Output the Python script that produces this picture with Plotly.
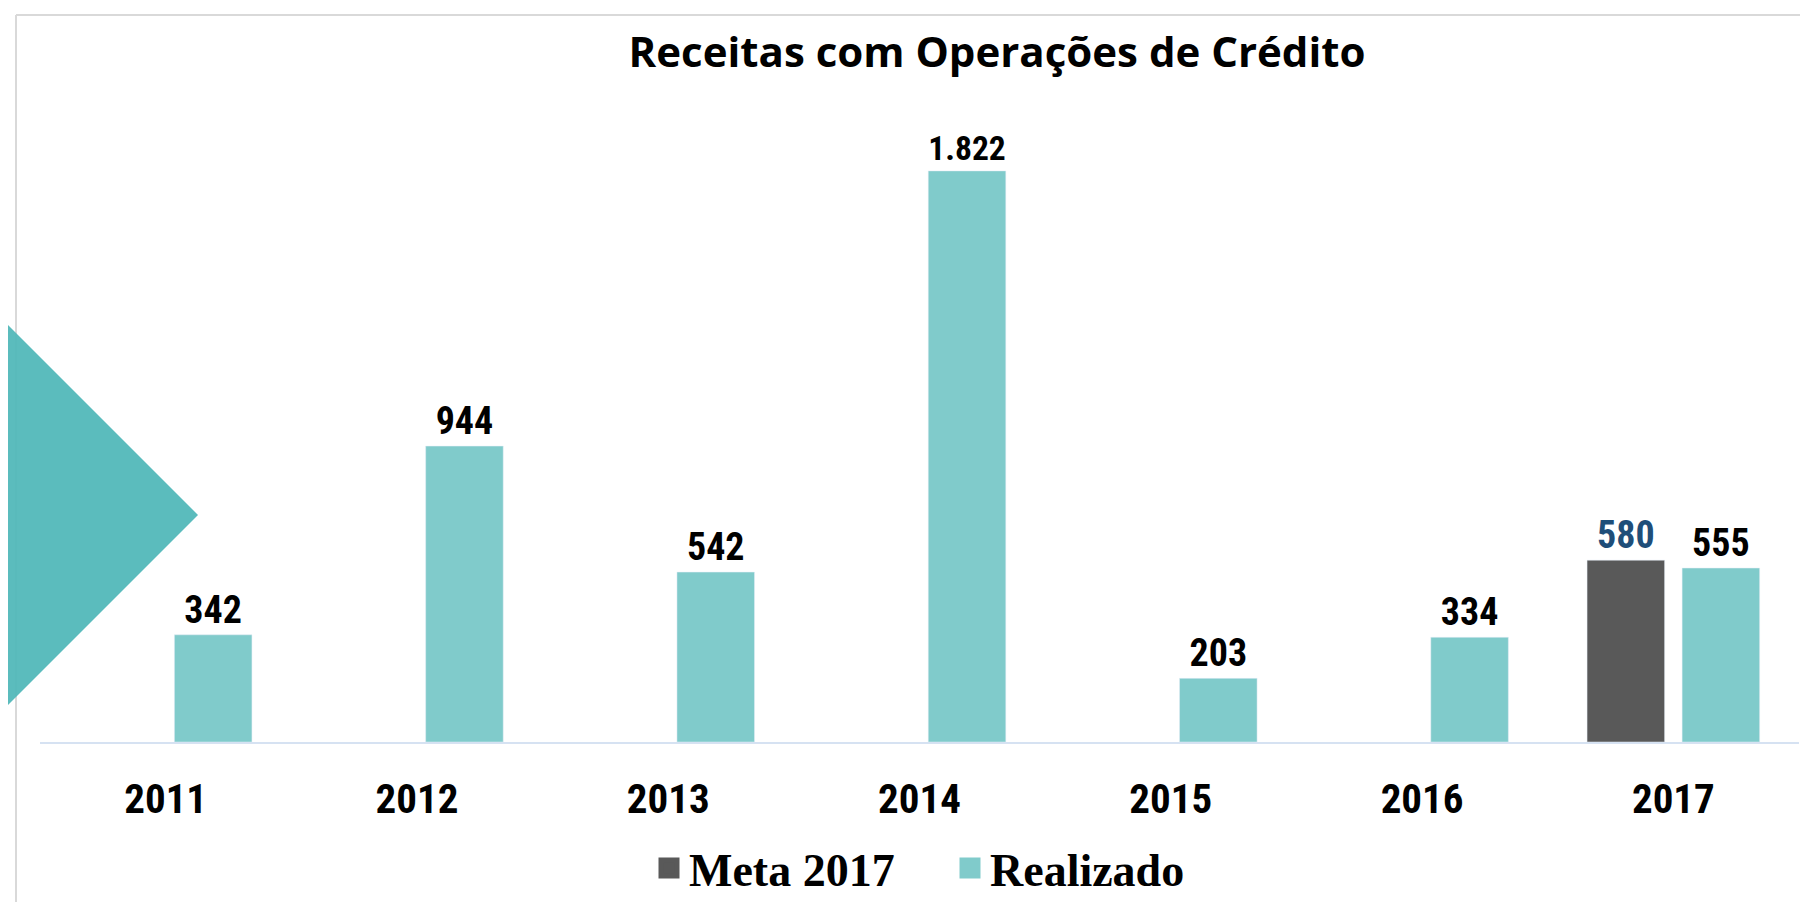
import plotly.graph_objects as go

years = ["2011", "2012", "2013", "2014", "2015", "2016", "2017"]
meta = [None, None, None, None, None, None, 580]
realizado = [342, 944, 542, 1822, 203, 334, 555]

OFF = 8  # default page margin around the figure
W, H = 1800, 894
L, R, B = 32, 9, 160
ph = 641
T = H - B - ph
pw = W - L - R

def px(page_x):
    return (page_x - OFF - L) / pw

def py(page_y):
    return (H - B - (page_y - OFF)) / ph

C_META = "#595959"
C_REAL = "#80CBCB"
LABEL_FONT = "Liberation Sans Narrow, Roboto Condensed, Roboto, sans-serif"

fig = go.Figure()
fig.add_trace(go.Bar(
    x=years, y=meta, name="Meta 2017", marker=dict(color=C_META),
    texttemplate="%{y:,}", textposition="outside", cliponaxis=False,
    textfont=dict(family=LABEL_FONT, size=38, color="#1F4E79", weight="bold"),
    showlegend=False, legendgroup="meta",
))
fig.add_trace(go.Bar(
    x=years, y=realizado, name="Realizado", marker=dict(color=C_REAL),
    texttemplate="%{y:,}", textposition="outside", cliponaxis=False,
    textfont=dict(family=LABEL_FONT, size=38, color="#000000", weight="bold"),
    showlegend=False, legendgroup="real",
))
# legend entries with larger square swatches
for nm, col, grp in [("Meta 2017", C_META, "meta"), ("Realizado", C_REAL, "real")]:
    fig.add_trace(go.Scatter(
        x=[None], y=[None], mode="markers", name=nm, legendgroup=grp,
        marker=dict(symbol="square", size=16, color=col, line=dict(color=col, width=5)),
        hoverinfo="skip",
    ))

shapes = [
    dict(type="line", xref="paper", yref="paper", x0=px(16), x1=px(1830), y0=py(15), y1=py(15),
         line=dict(color="#D9D9D9", width=2)),
    dict(type="line", xref="paper", yref="paper", x0=px(16), x1=px(16), y0=py(15), y1=py(930),
         line=dict(color="#D9D9D9", width=2)),
    dict(type="path", xref="paper", yref="paper",
         path=f"M {px(-20)},{py(297)} L {px(198)},{py(515)} L {px(-20)},{py(733)} Z",
         fillcolor="rgba(79,183,184,0.93)", line=dict(width=0)),
]

fig.update_layout(
    width=W, height=H,
    margin=dict(l=L, r=R, t=T, b=B, autoexpand=False),
    paper_bgcolor="white", plot_bgcolor="white",
    separators=",.",
    barmode="group", bargap=0.2436, bargroupgap=0.184,
    title=dict(text="<b>Receitas com Operações de Crédito</b>",
               x=px(997), xanchor="center", xref="paper",
               y=1 - (52 - OFF) / H, yanchor="middle", yref="container",
               font=dict(family="Open Sans, sans-serif", size=42, color="#000000")),
    xaxis=dict(showline=True, linecolor="#D6E2F2", linewidth=2, showgrid=False,
               ticks="", ticklabelstandoff=20,
               tickfont=dict(family=LABEL_FONT, size=41, color="#000000", weight="bold"),
               range=[-0.5, 6.5], fixedrange=True),
    yaxis=dict(visible=False, range=[0, 2045], showgrid=False, zeroline=False),
    legend=dict(orientation="h", x=px(950), xanchor="center", y=py(868), yanchor="middle",
                font=dict(family="Liberation Serif, Times New Roman, serif", size=46,
                          color="#000000", weight="bold"),
                itemwidth=30, traceorder="normal", entrywidth=256, entrywidthmode="pixels"),
    shapes=shapes,
)

fig.write_html("out.html")
